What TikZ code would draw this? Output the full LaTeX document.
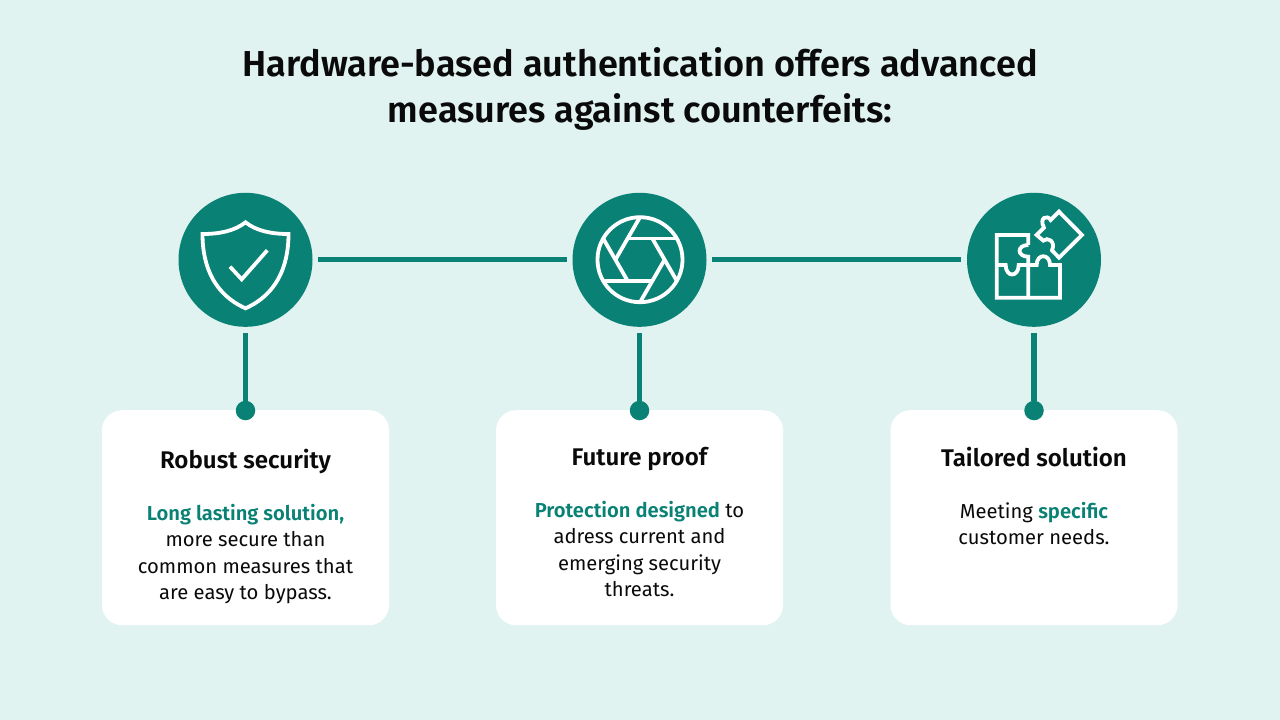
\documentclass[tikz,border=0pt]{standalone}
\usepackage{fontspec}
\setmainfont[BoldFont={Fira Sans SemiBold}]{Fira Sans}
\usepackage{tikz}
\definecolor{bgmint}{HTML}{E0F3F1}
\definecolor{teal}{HTML}{0A8175}
\definecolor{inkblack}{HTML}{0A0A0A}
\tikzset{
  badge/.style={circle,fill=teal,minimum size=134pt,inner sep=0pt},
  pin/.style={circle,fill=teal,minimum size=19.5pt,inner sep=0pt},
  card/.style={fill=white,rounded corners=20pt,minimum width=287pt,minimum height=215pt,inner sep=0pt},
  link/.style={teal,line width=5.3pt,shorten <=5.5pt,shorten >=5.5pt},
  stem/.style={teal,line width=5.3pt,shorten <=5.5pt},
  glyph/.style={white,line width=3.8pt,line join=miter},
  headline/.style={text=inkblack,align=center,font=\fontsize{36.1}{46}\selectfont\bfseries},
  cardhead/.style={text=inkblack,font=\fontsize{24.1}{28}\selectfont\bfseries},
  cardbody/.style={text=inkblack,align=center,font=\fontsize{20.2}{26.2}\selectfont}
}
\newcommand{\hl}[1]{\textcolor{teal}{\bfseries #1}}
\begin{document}
\begin{tikzpicture}[x=1pt,y=-1pt]
\useasboundingbox (0,0) rectangle (1280,720);
\fill[bgmint] (0,0) rectangle (1280,720);
\node [headline] (title) at (640,88.5) {Hardware-based authentication offers advanced\\measures against counterfeits:};
% badges
\node [badge] (shield) at (245.5,259.8) {};
\node [badge] (lens) at (639.5,259.8) {};
\node [badge] (puzzle) at (1034,259.8) {};
\draw[link] (shield) -- (lens);
\draw[link] (lens) -- (puzzle);
% cards
\node [card,anchor=north] (robust) at (245.5,410) {};
\node [card,anchor=north] (future) at (639.5,410) {};
\node [card,anchor=north] (tailored) at (1034,410) {};
\node [pin] (pinA) at (245.5,410.5) {};
\node [pin] (pinB) at (639.5,410.5) {};
\node [pin] (pinC) at (1034,410.5) {};
\draw[stem] (shield) -- (pinA);
\draw[stem] (lens) -- (pinB);
\draw[stem] (puzzle) -- (pinC);
% shield icon
\begin{scope}[shift={(245.5,260)}]
\draw[glyph] (0,-37.7) .. controls (-11,-29) and (-26,-26) .. (-43,-26) .. controls (-43,8) and (-30,35) .. (0,48.3) .. controls (30,35) and (43,8) .. (43,-26) .. controls (26,-26) and (11,-29) .. (0,-37.7) -- cycle;
\draw[glyph] (-15.5,6.7) -- (-3.8,19.3) -- (21.8,-9.7);
\end{scope}
% aperture icon
\begin{scope}[shift={(640,259.7)}]
\draw[glyph] (0,0) circle (42.5);
\foreach \ang in {0,60,...,300}
  \draw[glyph,rotate=\ang] (37,-21.3) -- (-12.3,-21.3);
\end{scope}
% puzzle icon
\begin{scope}[shift={(960,185)},x=0.3333pt,y=-0.3333pt]
\draw[glyph] (205,180) -- (205,150) -- (110,150) -- (110,338) -- (300,338) -- (300,240) -- (270,240) .. controls (270,205) and (230,205) .. (230,240) -- (176,240) .. controls (176,278) and (137,278) .. (137,240) -- (110,240);
\draw[glyph] (205,338) -- (205,215) .. controls (170,215) and (170,180) .. (205,180);
\draw[glyph] (297,80) -- (366,150) -- (297,218) -- (276,196) .. controls (288,168) and (262,155) .. (250,167) -- (230,150) -- (252,128) .. controls (236,98) and (262,88) .. (272,105) -- cycle;
\end{scope}
% card texts
\node [cardhead] (robustHead) at (245.5,461) {Robust security};
\node [cardbody,anchor=north] (robustText) at (245.5,501) {\hl{Long lasting solution,}\\more secure than\\common measures that\\are easy to bypass.};
\node [cardhead] (futureHead) at (639.5,459) {Future proof};
\node [cardbody,anchor=north] (futureText) at (639.5,498) {\hl{Protection designed} to\\adress current and\\emerging security\\threats.};
\node [cardhead] (tailoredHead) at (1034,457.5) {Tailored solution};
\node [cardbody,anchor=north] (tailoredText) at (1034,499) {Meeting \hl{specific}\\customer needs.};
\end{tikzpicture}
\end{document}
